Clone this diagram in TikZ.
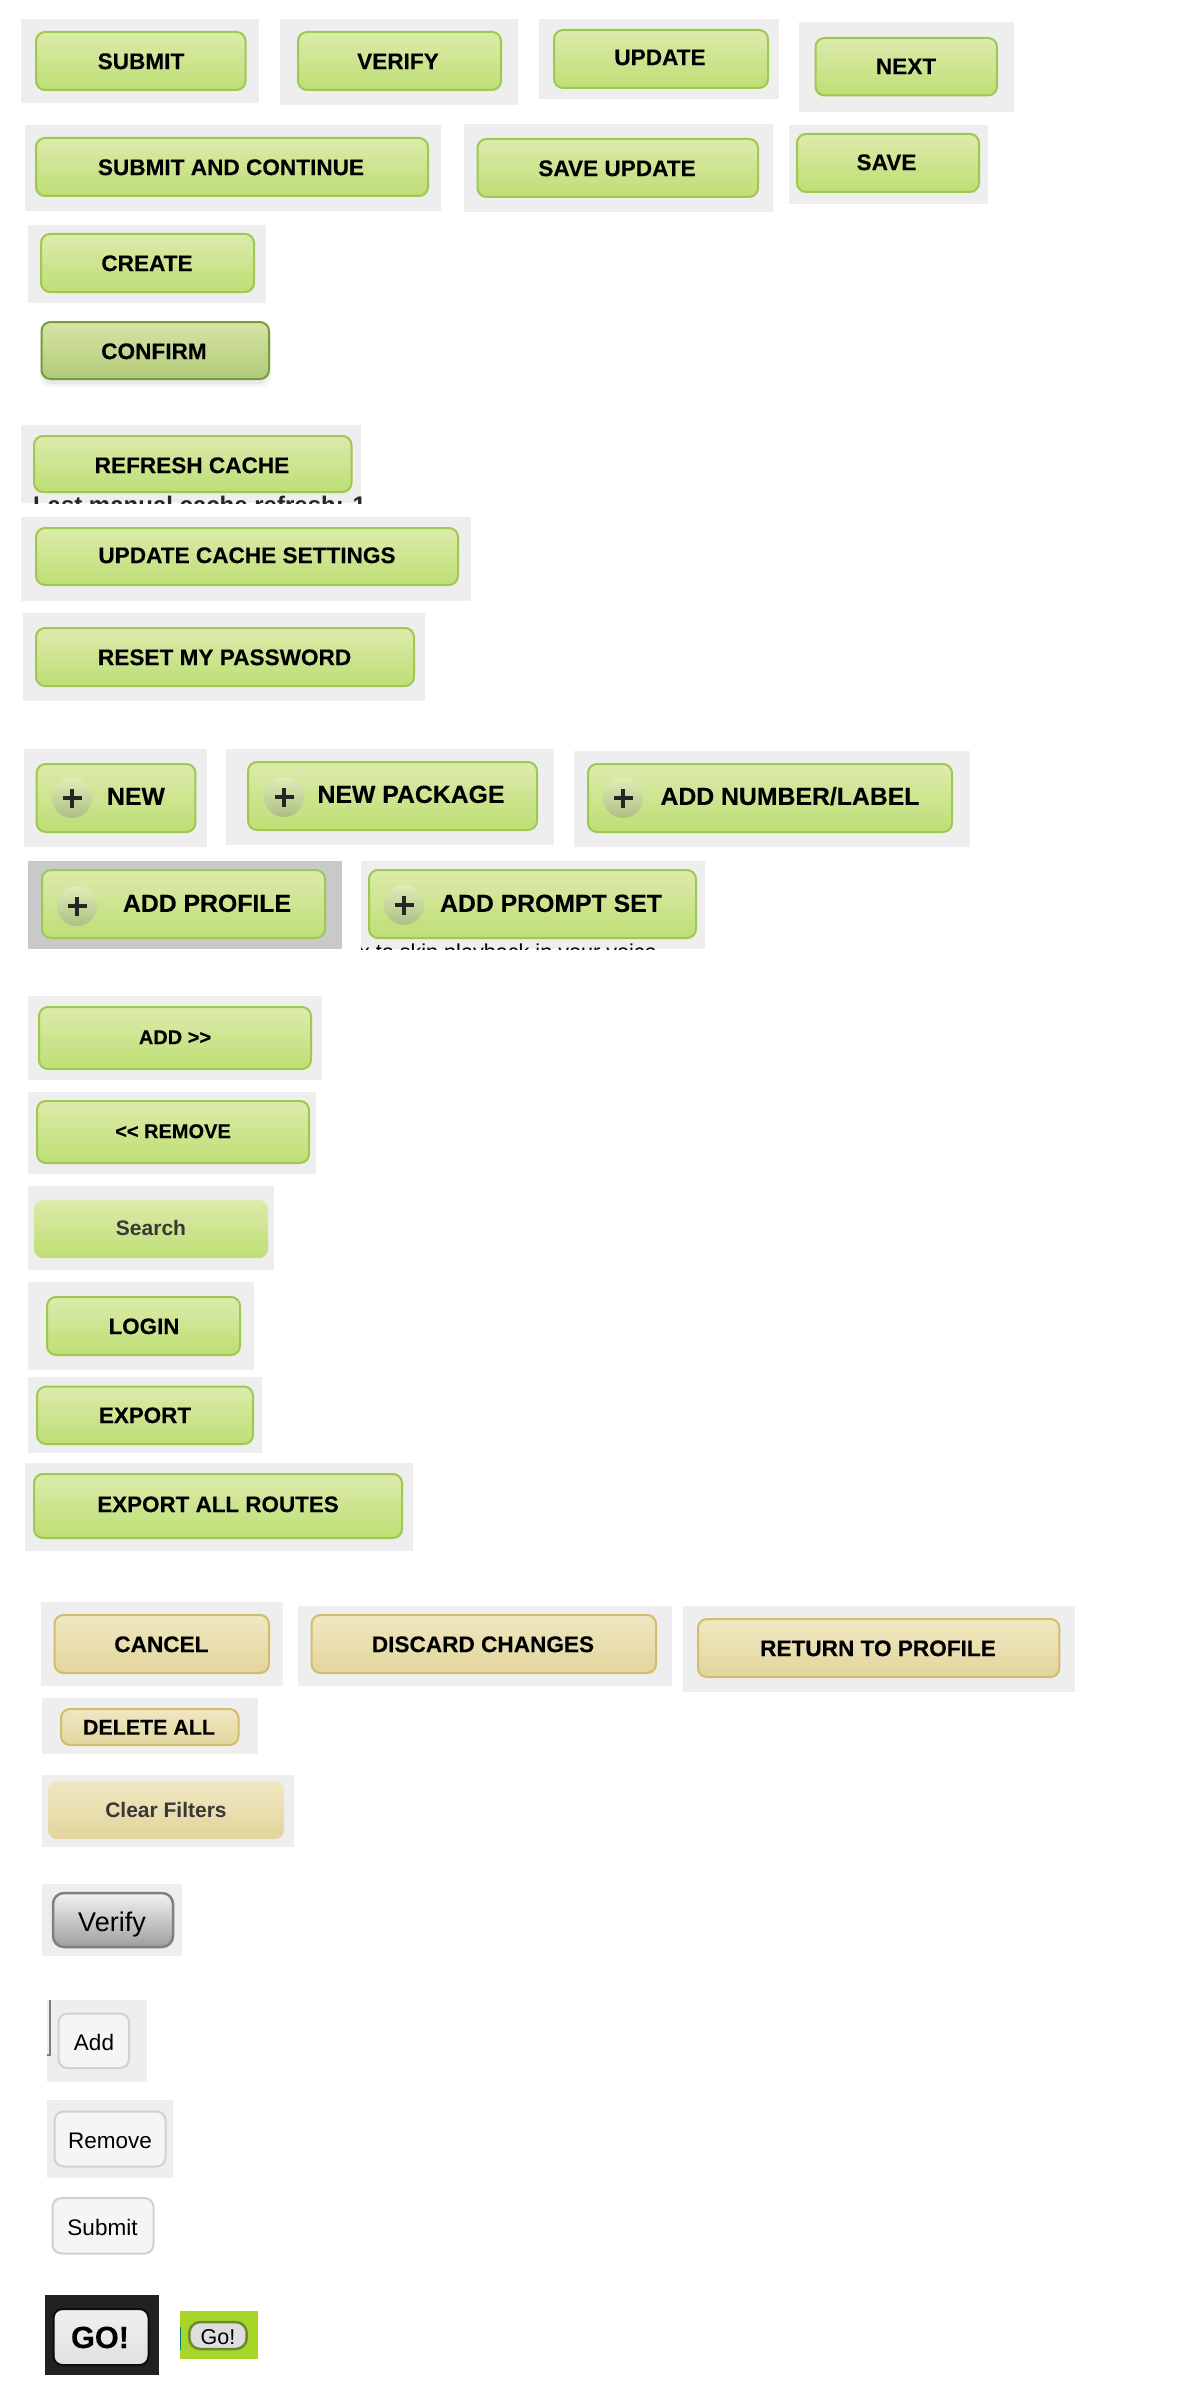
\documentclass[tikz,border=0pt]{standalone}
\usepackage{fontspec}
\setmainfont{Liberation Sans}
\definecolor{panel}{HTML}{EEEEEE}
\definecolor{greenT}{HTML}{DCEBAC}
\definecolor{greenB}{HTML}{BEDE74}
\definecolor{greenL}{HTML}{9FC850}
\definecolor{tanT}{HTML}{F0E8C3}
\definecolor{tanB}{HTML}{E2D59C}
\definecolor{tanL}{HTML}{D2BD6C}
\definecolor{confT}{HTML}{D7E4A6}
\definecolor{confB}{HTML}{B0CA78}
\definecolor{confL}{HTML}{779C3C}
\definecolor{iconT}{HTML}{DFEDB6}
\definecolor{iconB}{HTML}{AEBF84}
\definecolor{goGreen}{HTML}{A8D52A}
\definecolor{goLine}{HTML}{6B8A2C}
\tikzset{
  x=1pt,y=-1pt,
  basebtn/.style={rectangle,rounded corners=9pt,inner sep=0pt,outer sep=0pt,line width=2pt},
  greenbtn/.style={basebtn,draw=greenL,top color=greenT,bottom color=greenB},
  tanbtn/.style={basebtn,draw=tanL,top color=tanT,bottom color=tanB},
  confbtn/.style={basebtn,draw=confL,top color=confT,bottom color=confB},
  flatgreen/.style={basebtn,draw=none,top color=greenT,bottom color=greenB},
  flattan/.style={basebtn,draw=none,top color=tanT,bottom color=tanB},
  greybtn/.style={basebtn,rounded corners=11pt,draw=black!50,line width=2.5pt,top color=black!5,bottom color=black!38},
  plainbtn/.style={basebtn,draw=black!18,fill=black!4},
  gobtn/.style={basebtn,draw=black!95,top color=black!6,bottom color=black!12},
  smallgo/.style={basebtn,rounded corners=11pt,line width=2.5pt,draw=goLine,fill=black!13},
  bold/.style={font=\bfseries\addfontfeature{FakeBold=0.2}},
  lbl/.style={inner sep=0pt,outer sep=0pt,anchor=base},
  panelbox/.style={fill=panel},
}
% panel rectangle
\newcommand{\pnl}[4]{\fill[panelbox] (#1,#2) rectangle (#3,#4);}
% button: name, x1,y1,x2,y2, style
\newcommand{\btn}[6]{%
  \pgfmathsetmacro{\bw}{#4-#2-2}\pgfmathsetmacro{\bh}{#5-#3-2}%
  \pgfmathsetmacro{\bx}{(#2+#4)/2}\pgfmathsetmacro{\by}{(#3+#5)/2}%
  \node[#6,minimum width=\bw pt,minimum height=\bh pt] (#1) at (\bx,\by) {};}
% label: name, x, y(cap centre), size, extra style, text
\newcommand{\lab}[6]{%
  \pgfmathsetmacro{\ly}{#3+0.358*#4}%
  \node[lbl,#5] (#1) at (#2,\ly) {\fontsize{#4}{#4}\selectfont #6};}
% plus icon: name, centre
\newcommand{\plusicon}[2]{%
  \node[circle,inner sep=0pt,minimum size=40pt,top color=iconT,bottom color=iconB,draw=none] (#1) at (#2) {};
  \draw[line width=4pt,black!85] ([xshift=-9.5pt]#1.center) -- ([xshift=9.5pt]#1.center);
  \draw[line width=4pt,black!85] ([yshift=-9.5pt]#1.center) -- ([yshift=9.5pt]#1.center);}
\begin{document}
\begin{tikzpicture}
\useasboundingbox (0,0) rectangle (1200,2400);
\fill[white] (0,0) rectangle (1200,2400);
% row 1
\pnl{21}{19}{259}{103}\btn{b1}{35}{31}{246.5}{91}{greenbtn}\lab{t1}{141}{61}{22.6}{bold}{SUBMIT}
\pnl{280}{19}{518}{105}\btn{b2}{297}{31}{502}{91}{greenbtn}\lab{t2}{398}{61}{22.6}{bold}{VERIFY}
\pnl{539}{19}{779}{99}\btn{b3}{553}{29}{769}{89}{greenbtn}\lab{t3}{660}{57}{22.6}{bold}{UPDATE}
\pnl{799}{22}{1013.5}{112}\btn{b4}{814.5}{37}{998}{96.5}{greenbtn}\lab{t4}{906}{66}{22.6}{bold}{NEXT}
% row 2
\pnl{25}{125}{441}{211}\btn{b5}{35}{137}{429}{197}{greenbtn}\lab{t5}{231}{167}{22.6}{bold}{SUBMIT AND CONTINUE}
\pnl{464}{124}{773}{212}\btn{b6}{476.5}{138}{759}{198}{greenbtn}\lab{t6}{617}{168}{22.6}{bold}{SAVE UPDATE}
\pnl{788.5}{125.5}{987.5}{204}\btn{b7}{796}{133}{980}{193}{greenbtn}\lab{t7}{886.5}{162}{22.6}{bold}{SAVE}
\pnl{28}{225}{266}{303}\btn{b8}{40}{233}{255}{293}{greenbtn}\lab{t8}{147}{263}{22.6}{bold}{CREATE}
% confirm with soft shadow
\fill[black,opacity=.04,rounded corners=10pt] (40,330) rectangle (271,387);
\fill[black,opacity=.05,rounded corners=10pt] (42,330) rectangle (269,384);
\btn{b9}{40.5}{321}{270}{380}{confbtn}\lab{t9}{154}{351}{22.6}{bold}{CONFIRM}
% cache group
\pnl{21}{425}{361}{503}\btn{b10}{33}{435}{352.5}{493}{greenbtn}\lab{t10}{192}{465}{22.6}{bold}{REFRESH CACHE}
\begin{scope}
\clip (21,425) rectangle (361,503);
\node[inner sep=0pt,outer sep=0pt,anchor=base west,text=black!85] (cachenote) at (33,513) {\bfseries\fontsize{24}{24}\selectfont Last manual cache refresh: 1};
\end{scope}
\pnl{21}{517}{471}{601}\btn{b11}{35}{527}{459}{586}{greenbtn}\lab{t11}{247}{555}{22.6}{bold}{UPDATE CACHE SETTINGS}
\pnl{23}{613}{425}{701}\btn{b12}{35}{627}{415}{687}{greenbtn}\lab{t12}{224.6}{657}{22.6}{bold}{RESET MY PASSWORD}
% plus group
\pnl{23.6}{749}{207}{847}\btn{b13}{35.7}{763}{196.4}{833}{greenbtn}\plusicon{p13}{72,798}\lab{t13}{136}{796}{24.8}{bold}{NEW}
\pnl{226}{749}{554}{845}\btn{b14}{247}{761}{538}{831}{greenbtn}\plusicon{p14}{284,797}\lab{t14}{411}{794}{24.8}{bold}{NEW PACKAGE}
\pnl{574}{751}{970}{847}\btn{b15}{587}{763}{953}{833}{greenbtn}\plusicon{p15}{623,798}\lab{t15}{790}{796}{24.8}{bold}{ADD NUMBER/LABEL}
\fill[black!21] (28,861) rectangle (342,949);
\btn{b16}{41}{869}{326}{939}{greenbtn}\plusicon{p16}{77,906}\lab{t16}{207}{903}{24.8}{bold}{ADD PROFILE}
\pnl{361}{861}{705}{949}\btn{b17}{368}{869}{697}{939}{greenbtn}\plusicon{p17}{404,905}\lab{t17}{551}{903}{24.8}{bold}{ADD PROMPT SET}
\begin{scope}
\clip (361,861) rectangle (705,949);
\node[inner sep=0pt,outer sep=0pt,anchor=base west] (skipnote) at (359,959) {\fontsize{21.6}{21.6}\selectfont x to skip playback in your voice};
\end{scope}
% add / remove group
\pnl{28}{996}{322}{1080}\btn{b18}{38}{1006}{312}{1070}{greenbtn}\lab{t18}{175}{1037}{20}{bold}{ADD >{}>}
\pnl{28}{1092}{316}{1174}\btn{b19}{36}{1100}{310}{1164}{greenbtn}\lab{t19}{173}{1131}{20}{bold}{<{}< REMOVE}
\pnl{28}{1186}{274}{1270}\btn{b20}{33}{1199}{269}{1259}{flatgreen}\lab{t20}{151}{1228}{21}{font=\bfseries,text=black!78}{Search}
\pnl{28}{1282}{254}{1370}\btn{b21}{46}{1296}{241}{1356}{greenbtn}\lab{t21}{144}{1326}{22.4}{bold}{LOGIN}
\pnl{28}{1377}{262}{1453}\btn{b22}{36}{1385.6}{254}{1445}{greenbtn}\lab{t22}{145}{1415}{22.4}{bold}{EXPORT}
\pnl{25}{1463}{413}{1551}\btn{b23}{33}{1473}{403}{1539}{greenbtn}\lab{t23}{218}{1504}{22.4}{bold}{EXPORT ALL ROUTES}
% tan group
\pnl{41}{1602}{283}{1686}\btn{b24}{53.5}{1614}{270}{1674}{tanbtn}\lab{t24}{161.4}{1644}{22.6}{bold}{CANCEL}
\pnl{297.6}{1606}{672}{1686}\btn{b25}{310.6}{1614}{657}{1674}{tanbtn}\lab{t25}{483}{1644}{22.6}{bold}{DISCARD CHANGES}
\pnl{682.5}{1606}{1075}{1692}\btn{b26}{697}{1618}{1060.4}{1678}{tanbtn}\lab{t26}{878}{1648}{22.6}{bold}{RETURN TO PROFILE}
\pnl{42}{1698}{258}{1754}\btn{b27}{60}{1708}{239.5}{1746}{tanbtn}\lab{t27}{149}{1727}{21.4}{bold}{DELETE ALL}
\pnl{42}{1775}{294}{1847}\btn{b28}{47}{1780}{285}{1840}{flattan}\lab{t28}{166}{1810}{21}{font=\bfseries,text=black!78}{Clear Filters}
% plain group
\pnl{42}{1884}{182}{1956}\btn{b29}{52}{1892}{174}{1948}{greybtn}\lab{t29}{112}{1922}{27}{}{Verify}
\pnl{47}{2000}{147}{2082}
\draw[line width=1.5pt,black!50] (50,2000) -- (50,2055) -- (47,2055);
\btn{b30}{57.5}{2012.5}{130}{2069}{plainbtn}\lab{t30}{94}{2042}{22.5}{}{Add}
\pnl{47}{2100}{173}{2178}\btn{b31}{53.5}{2110.5}{166.5}{2167.5}{plainbtn}\lab{t31}{110}{2140}{22.5}{}{Remove}
\btn{b32}{51.5}{2197}{154.5}{2254.5}{plainbtn}\lab{t32}{102.5}{2227}{22.5}{}{Submit}
% go buttons
\fill[black!87] (45,2295) rectangle (159,2375);
\btn{b33}{52.5}{2308}{149.5}{2366}{gobtn}\lab{t33}{100}{2337}{30.7}{bold}{GO!}
\fill[goGreen] (180,2311) rectangle (258,2359);
\draw[line width=1pt,teal] (180.5,2327) -- (180.5,2350);
\btn{b34}{188.3}{2321}{247.7}{2350}{smallgo}\lab{t34}{218}{2336.5}{21.5}{}{Go!}
\end{tikzpicture}
\end{document}
